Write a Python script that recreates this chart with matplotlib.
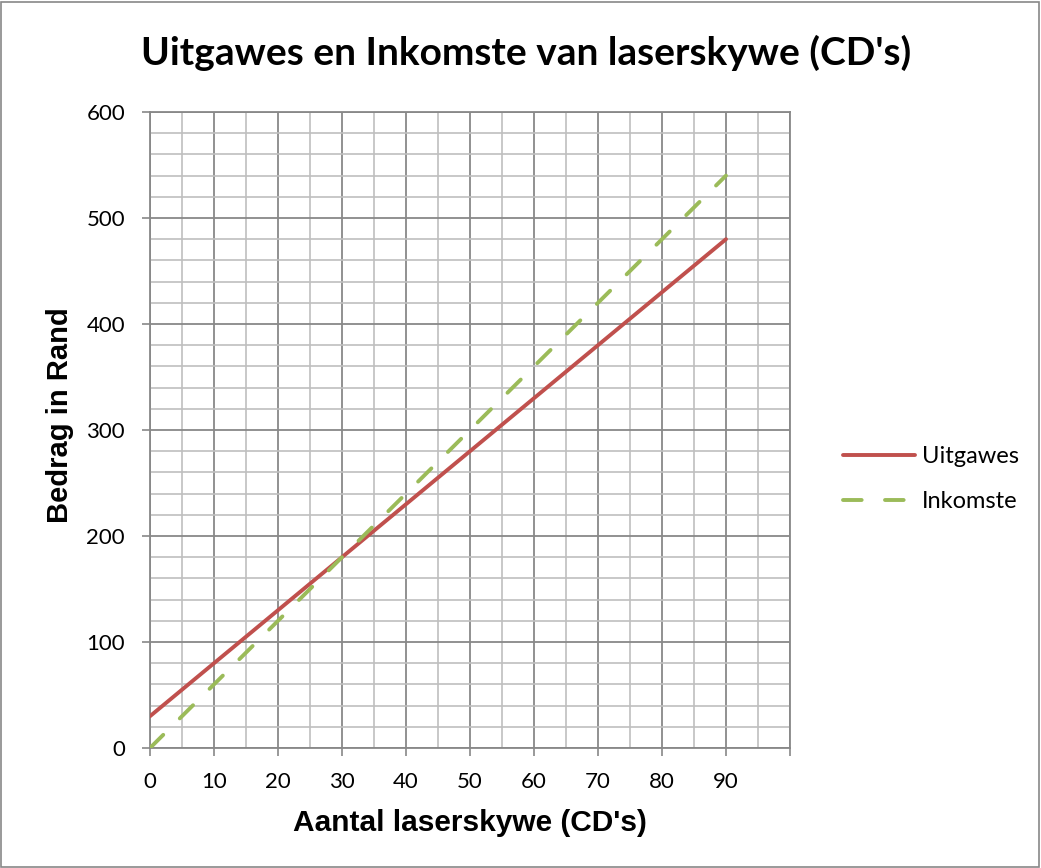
import matplotlib.pyplot as plt
import matplotlib.ticker as ticker
from matplotlib.patches import Rectangle

# data
cds = [0, 10, 20, 30, 40, 50, 60, 70, 80, 90]
uitgawes = [30, 80, 130, 180, 230, 280, 330, 380, 430, 480]
inkomste = [0, 60, 120, 180, 240, 300, 360, 420, 480, 540]
x_ticks = [0, 10, 20, 30, 40, 50, 60, 70, 80, 90, 100]
x_tick_labels = ['0', '10', '20', '30', '40', '50', '60', '70', '80', '90', '']

red = '#C0504D'
green = '#9BBB59'

fig = plt.figure(figsize=(10.41, 8.68), dpi=100)
ax = fig.add_axes([150/1041, 1 - 748/868, 640/1041, 636/868])

ax.plot(cds, uitgawes, color=red, lw=2.8, label='Uitgawes', solid_capstyle='round', zorder=3)
ax.plot(cds, inkomste, color=green, lw=2.8, ls=(0, (4.8, 6)), label='Inkomste',
        dash_capstyle='round', zorder=3)

ax.set_xlim(0, 100)
ax.set_ylim(0, 600)
ax.set_xticks(x_ticks)
ax.set_xticklabels(x_tick_labels)
ax.set_yticks(range(0, 601, 100))
ax.xaxis.set_minor_locator(ticker.MultipleLocator(5))
ax.yaxis.set_minor_locator(ticker.MultipleLocator(20))

ax.grid(which='minor', color='#BFBFBF', lw=1.2)
ax.grid(which='major', color='#888888', lw=1.3)
ax.set_axisbelow(True)
ax.tick_params(which='major', length=6, width=1.2, color='#888888', labelsize=16)
ax.tick_params(axis='x', pad=11)
ax.tick_params(axis='y', pad=12)
ax.tick_params(which='minor', length=0)
for lbl in ax.get_xticklabels() + ax.get_yticklabels():
    lbl.set_family('Lato')
for s in ax.spines.values():
    s.set_color('#888888')
    s.set_linewidth(1.3)

ax.set_xlabel("Aantal laserskywe (CD's)", fontsize=21.5, fontweight='bold',
              family='Liberation Sans', va='center')
ax.xaxis.set_label_coords(0.5, (748 - 823) / 636)
ax.set_ylabel('Bedrag in Rand', fontsize=21, fontweight='bold',
              family='Liberation Sans', va='center')
ax.yaxis.set_label_coords((59.5 - 150) / 640, (748 - 415) / 636)

fig.text(526.5/1041, 1 - 53/868, "Uitgawes en Inkomste van laserskywe (CD's)",
         ha='center', va='center', fontsize=28, fontweight='bold', family='Lato')

leg = fig.legend(loc='center left', bbox_to_anchor=(843/1041, 1 - 479/868),
                 frameon=False, prop={'family': 'Lato', 'size': 17},
                 handlelength=3.05, labelspacing=1.0, handletextpad=0.3,
                 borderpad=0, borderaxespad=0)

fig.patches.append(Rectangle((0.001, 0.001), 0.997, 0.997, transform=fig.transFigure,
                             fill=False, edgecolor='#888888', lw=1.2))

fig.savefig('out.png', dpi=100)
